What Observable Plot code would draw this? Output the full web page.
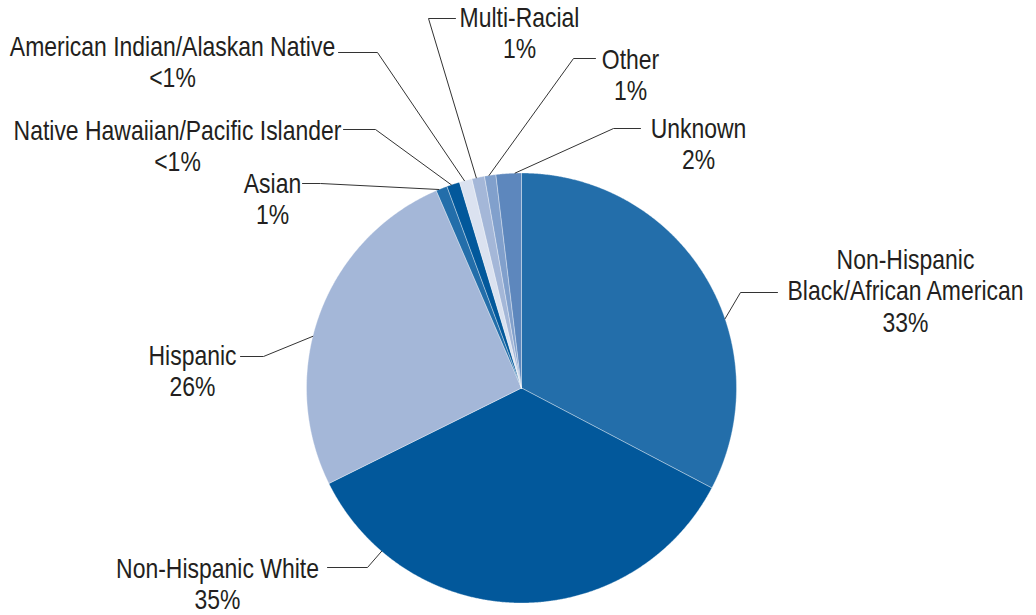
<!DOCTYPE html>
<html>
<head>
<meta charset="utf-8">
<script src="https://cdn.jsdelivr.net/npm/d3@7"></script>
<script src="https://cdn.jsdelivr.net/npm/@observablehq/plot@0.6"></script>
<style>
  html, body { margin: 0; padding: 0; background: #ffffff; }
  #chart { width: 1036px; height: 615px; }
</style>
</head>
<body>
<div id="chart"></div>
<script>
// ---- data ----
const categories = [
  "Non-Hispanic Black/African American",
  "Non-Hispanic White",
  "Hispanic",
  "Asian",
  "Native Hawaiian/Pacific Islander",
  "American Indian/Alaskan Native",
  "Multi-Racial",
  "Other",
  "Unknown"
];
const shares = [32.65, 34.93, 25.8, 0.85, 0.98, 0.95, 0.95, 0.85, 1.9];
const shareLabels = ["33%", "35%", "26%", "1%", "<1%", "<1%", "1%", "1%", "2%"];
const displayNames = [
  "Non-Hispanic\nBlack/African American",
  "Non-Hispanic White",
  "Hispanic",
  "Asian",
  "Native Hawaiian/Pacific Islander",
  "American Indian/Alaskan Native",
  "Multi-Racial",
  "Other",
  "Unknown"
];

// ---- styles ----
const palette = ["#236eaa", "#02589b", "#a4b7d8", "#236eaa", "#02589b", "#dbe2f0", "#a4b7d8", "#81a0cc", "#5d87bd"];
const fontFamily = "'Liberation Sans', Arial, sans-serif";
const narrow = 0.82; // horizontal compression to mimic a condensed face

// ---- layout (pixel space of the plot frame) ----
const pieCenter = {x: 521, y: 387.5};
const pieRadius = 215;
// label block centre, leader end (at label), leader elbow, attach fraction within slice
const labelLayout = [
  {lx: 905, ly: 290,   ex: 777, ey: 292, bx: 740, by: 292, f: 0.605},
  {lx: 217, ly: 583,   ex: 327, ey: 567, bx: 367, by: 567, f: 0.817},
  {lx: 192, ly: 370.5, ex: 240, ey: 356, bx: 263, by: 356, f: 0.433},
  {lx: 272, ly: 198,   ex: 302, ey: 183, bx: 320, by: 183, f: 0.25},
  {lx: 177, ly: 145,   ex: 343, ey: 129, bx: 375, by: 129, f: 0.35},
  {lx: 172, ly: 61,    ex: 338, ey: 52,  bx: 377, by: 52,  f: 0.4},
  {lx: 519, ly: 32,    ex: 455, ey: 18,  bx: 428, by: 18,  f: 0.35},
  {lx: 630, ly: 74,    ex: 595, ey: 58,  bx: 573, by: 58,  f: 0.4},
  {lx: 698, ly: 143,   ex: 640, ey: 128, bx: 613, by: 128, f: 0.75}
];

// ---- derived geometry via d3.pie ----
const rows = categories.map((name, i) => ({name, value: shares[i], color: palette[i], i}));
const arcs = d3.pie().sort(null).value(d => d.value).startAngle(0).endAngle(2 * Math.PI)(rows);
const polar = (a, r) => ({x: pieCenter.x + r * Math.sin(a), y: pieCenter.y - r * Math.cos(a)});

const slicePoints = [];
for (const a of arcs) {
  const name = a.data.name, color = a.data.color;
  slicePoints.push({name, color, ...polar(0, 0)});
  const steps = Math.max(2, Math.ceil((a.endAngle - a.startAngle) / (Math.PI / 720)));
  for (let k = 0; k <= steps; k++) {
    const t = a.startAngle + (a.endAngle - a.startAngle) * k / steps;
    slicePoints.push({name, color, ...polar(t, pieRadius)});
  }
  slicePoints.push({name, color, ...polar(0, 0)});
}

const leaderPoints = [];
arcs.forEach((a, i) => {
  const L = labelLayout[i];
  const ang = a.startAngle + (a.endAngle - a.startAngle) * L.f;
  const p = polar(ang, pieRadius);
  leaderPoints.push({name: categories[i], x: L.ex, y: L.ey});
  leaderPoints.push({name: categories[i], x: L.bx, y: L.by});
  leaderPoints.push({name: categories[i], x: p.x, y: p.y});
});

const labels = categories.map((name, i) => ({
  name,
  text: displayNames[i] + "\n" + shareLabels[i],
  x: labelLayout[i].lx,
  y: labelLayout[i].ly
}));

const chart = Plot.plot({
  width: 1036,
  height: 615,
  margin: 0,
  x: {domain: [0, 1036], range: [0, 1036], axis: null},
  y: {domain: [0, 615], range: [0, 615], axis: null},
  color: {type: "identity"},
  style: {fontFamily, background: "#ffffff", overflow: "visible"},
  marks: [
    Plot.line(slicePoints, {x: "x", y: "y", z: "name", fill: "color", stroke: "#ffffff", strokeWidth: 0.35, strokeLinejoin: "round", curve: "linear"}),
    Plot.line(leaderPoints, {x: "x", y: "y", z: "name", stroke: "#333333", strokeWidth: 1, curve: "linear"}),
    Plot.text(labels, {x: "x", y: "y", text: "text", fill: "#231f20", fontSize: 28, lineHeight: 1.11, lineAnchor: "middle", textAnchor: "middle", fontFamily})
  ]
});

// compress the label glyphs horizontally around their anchor (condensed look)
chart.querySelectorAll('g[aria-label="text"] text').forEach(t => {
  const tr = t.getAttribute("transform");
  if (tr) {
    t.setAttribute("transform", tr + ` scale(${narrow},1)`);
  } else {
    const x = +t.getAttribute("x") || 0, y = +t.getAttribute("y") || 0;
    t.removeAttribute("x"); t.removeAttribute("y");
    t.setAttribute("transform", `translate(${x},${y}) scale(${narrow},1)`);
  }
});
document.getElementById("chart").appendChild(chart);
</script>
</body>
</html>
